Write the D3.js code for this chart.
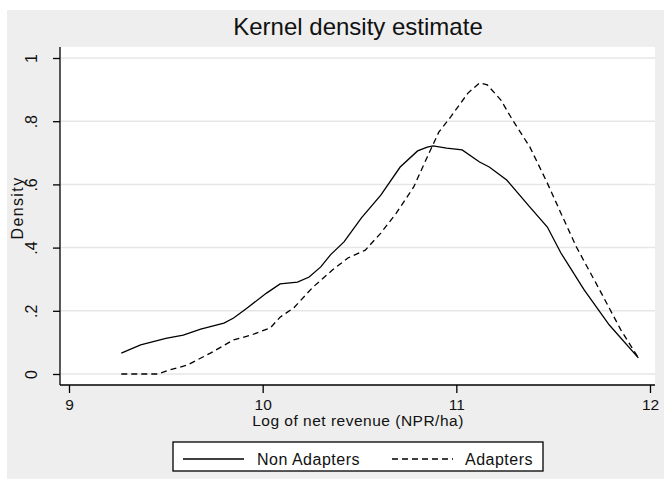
<!DOCTYPE html>
<html>
<head>
<meta charset="utf-8">
<script src="https://cdn.jsdelivr.net/npm/d3@7"></script>
<style>
  body { margin: 0; background: #fff; }
  text { font-family: "Liberation Sans", Arial, sans-serif; fill: #111; }
</style>
</head>
<body>
<svg id="chart"></svg>
<script>
// log net revenue values (x) and density estimates (y)
const nonX = [9.27, 9.37, 9.50, 9.59, 9.68, 9.80, 9.85, 9.92, 10.02, 10.09, 10.18, 10.24, 10.30, 10.35, 10.42,
  10.51, 10.61, 10.71, 10.80, 10.85, 10.88, 10.95, 11.03, 11.12, 11.17, 11.26, 11.38, 11.47, 11.54, 11.66, 11.79, 11.94];
const nonY = [0.066, 0.092, 0.113, 0.123, 0.142, 0.161, 0.177, 0.209, 0.256, 0.285, 0.291, 0.307, 0.339, 0.377, 0.418,
  0.494, 0.566, 0.655, 0.706, 0.718, 0.722, 0.715, 0.709, 0.671, 0.655, 0.614, 0.528, 0.465, 0.383, 0.266, 0.155, 0.051];

const adpX = [9.27, 9.46, 9.52, 9.61, 9.73, 9.85, 9.94, 10.04, 10.09, 10.16, 10.26, 10.36, 10.44, 10.53, 10.61,
  10.69, 10.78, 10.85, 10.91, 10.97, 11.06, 11.12, 11.16, 11.23, 11.29, 11.38, 11.47, 11.54, 11.62, 11.74, 11.85, 11.94];
const adpY = [0.0, 0.0, 0.013, 0.028, 0.066, 0.108, 0.123, 0.146, 0.180, 0.209, 0.275, 0.329, 0.367, 0.392, 0.446,
  0.509, 0.592, 0.687, 0.766, 0.813, 0.889, 0.921, 0.915, 0.867, 0.804, 0.718, 0.604, 0.509, 0.402, 0.266, 0.139, 0.051];

const xTicks = [9, 10, 11, 12];
const yTicks = [0, 0.2, 0.4, 0.6, 0.8, 1];
const yTickLabels = ["0", ".2", ".4", ".6", ".8", "1"];

const width = 664;
const height = 479;

const svg = d3.select("#chart").attr("width", width).attr("height", height);

// outer grey graph region
svg.append("rect")
  .attr("x", 7).attr("y", 10)
  .attr("width", width - 7).attr("height", height - 10)
  .attr("fill", "#eeeeee");

const plot = { left: 60, right: 655, top: 47, bottom: 385 };

svg.append("rect")
  .attr("x", plot.left).attr("y", plot.top)
  .attr("width", plot.right - plot.left).attr("height", plot.bottom - plot.top)
  .attr("fill", "#fff");

let x = d3.scaleLinear().domain([9, 12]).range([69, 650]);
let y = d3.scaleLinear().domain([0, 1]).range([374, 58]);

// gridlines
svg.selectAll(".grid")
  .data(yTicks)
  .enter()
  .append("line")
  .attr("x1", plot.left + 1).attr("x2", plot.right)
  .attr("y1", (d) => y(d)).attr("y2", (d) => y(d))
  .attr("stroke", "#e6e6e6")
  .attr("stroke-width", 1.5);

// y axis
let yAxis = svg.append("g")
  .attr("transform", `translate(${plot.left},0)`)
  .call(d3.axisLeft(y).tickValues(yTicks).tickSize(7).tickPadding(5)
    .tickFormat((d, i) => yTickLabels[i]));
yAxis.select(".domain").attr("d", `M0,${plot.top}V${plot.bottom}`).attr("stroke", "#000").attr("stroke-width", 1.3);
yAxis.selectAll(".tick line").attr("stroke", "#000").attr("stroke-width", 1.3);
yAxis.selectAll(".tick text")
  .attr("font-size", 16)
  .attr("text-anchor", "middle")
  .attr("x", null)
  .attr("dy", null)
  .attr("transform", "translate(-23,0) rotate(-90)");

// x axis
let xAxis = svg.append("g")
  .attr("transform", `translate(0,${plot.bottom})`)
  .call(d3.axisBottom(x).tickValues(xTicks).tickSize(8).tickPadding(7).tickFormat(d3.format("d")));
xAxis.select(".domain").attr("d", `M${plot.left},0H${plot.right}`).attr("stroke", "#000").attr("stroke-width", 1.3);
xAxis.selectAll(".tick line").attr("stroke", "#000").attr("stroke-width", 1.3);
xAxis.selectAll(".tick text")
  .attr("font-size", 15.5)
  .attr("y", 25)
  .attr("dy", null);

// title and axis labels
svg.append("text")
  .attr("x", 358).attr("y", 35)
  .attr("text-anchor", "middle")
  .attr("font-size", 24)
  .text("Kernel density estimate");

svg.append("text")
  .attr("x", 358).attr("y", 426)
  .attr("text-anchor", "middle")
  .attr("font-size", 15.5)
  .attr("letter-spacing", 0.5)
  .text("Log of net revenue (NPR/ha)");

svg.append("text")
  .attr("transform", "translate(23,208) rotate(-90)")
  .attr("text-anchor", "middle")
  .attr("font-size", 16)
  .attr("letter-spacing", 1.4)
  .text("Density");

// density curves
let line = d3.line().curve(d3.curveLinear);

svg.append("path")
  .attr("d", line(nonX.map((d, i) => [x(d), y(nonY[i])])))
  .attr("fill", "none")
  .attr("stroke", "#000")
  .attr("stroke-width", 1.3);

svg.append("path")
  .attr("d", line(adpX.map((d, i) => [x(d), y(adpY[i])])))
  .attr("fill", "none")
  .attr("stroke", "#000")
  .attr("stroke-width", 1.3)
  .attr("stroke-dasharray", "6,4");

// legend
let legend = svg.append("g");
legend.append("rect")
  .attr("x", 173).attr("y", 442)
  .attr("width", 370).attr("height", 29)
  .attr("fill", "#fff")
  .attr("stroke", "#000")
  .attr("stroke-width", 1.3);

let items = [
  { label: "Non Adapters", dash: null, x0: 183, tx: 257 },
  { label: "Adapters", dash: "6,4", x0: 392, tx: 465 },
];
items.forEach((it) => {
  legend.append("line")
    .attr("x1", it.x0).attr("x2", it.x0 + 61)
    .attr("y1", 459).attr("y2", 459)
    .attr("stroke", "#000")
    .attr("stroke-width", 1.3)
    .attr("stroke-dasharray", it.dash);
  legend.append("text")
    .attr("x", it.tx).attr("y", 465)
    .attr("font-size", 16)
    .attr("letter-spacing", 0.5)
    .text(it.label);
});
</script>
</body>
</html>
